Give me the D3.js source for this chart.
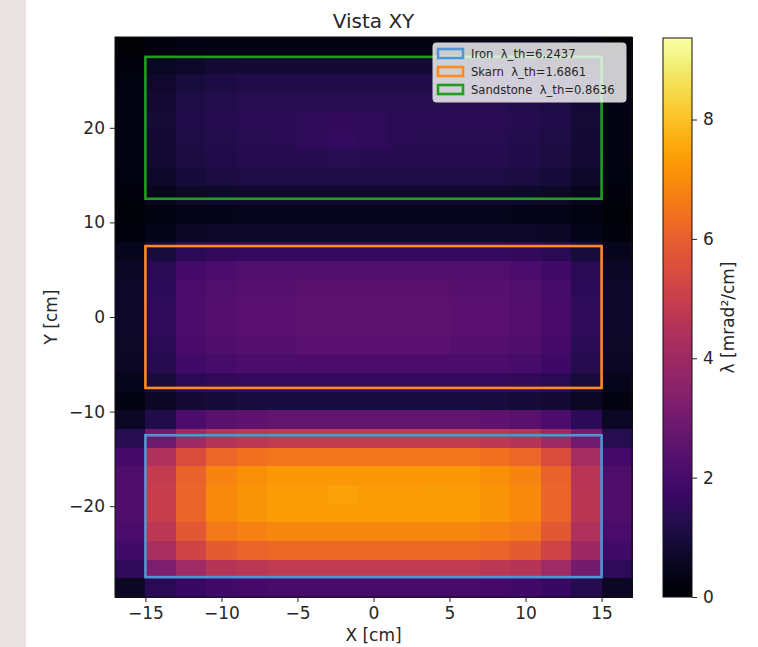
<!DOCTYPE html>
<html><head><meta charset="utf-8">
<script src="https://cdn.jsdelivr.net/npm/d3@7"></script>
<style>
html,body{margin:0;padding:0;background:#fff;}
svg{display:block;font-family:"DejaVu Sans",sans-serif;}
</style></head>
<body>
<script>
// ---------- data ----------
const title = "Vista XY";
const xCenters = [-16,-14,-12,-10,-8,-6,-4,-2,0,2,4,6,8,10,12,14,16];
const binWidth = 2;
const yExtent = [-29.6, 29.6];
const xExtent = [-17, 17];
const colorMax = 9.3656;
// rows from top (y = 29.6) to bottom (y = -29.6)
const lambdaGrid = [
 [0.09,0.23,0.30,0.33,0.35,0.35,0.35,0.35,0.35,0.35,0.35,0.35,0.35,0.33,0.30,0.23,0.09],
 [0.21,0.55,0.72,0.81,0.85,0.85,0.85,0.85,0.85,0.85,0.85,0.85,0.85,0.81,0.72,0.55,0.21],
 [0.29,0.75,0.98,1.09,1.15,1.15,1.15,1.15,1.15,1.15,1.15,1.15,1.15,1.09,0.98,0.75,0.29],
 [0.33,0.85,1.11,1.24,1.30,1.30,1.30,1.30,1.30,1.30,1.30,1.30,1.30,1.24,1.11,0.85,0.33],
 [0.34,0.88,1.15,1.28,1.35,1.35,1.45,1.50,1.45,1.35,1.35,1.35,1.35,1.28,1.15,0.88,0.34],
 [0.33,0.85,1.11,1.24,1.30,1.35,1.45,1.55,1.45,1.35,1.30,1.30,1.30,1.24,1.11,0.85,0.33],
 [0.31,0.81,1.06,1.19,1.25,1.25,1.25,1.30,1.25,1.25,1.25,1.25,1.25,1.19,1.06,0.81,0.31],
 [0.28,0.72,0.94,1.05,1.10,1.10,1.10,1.10,1.10,1.10,1.10,1.10,1.10,1.05,0.94,0.72,0.28],
 [0.19,0.49,0.64,0.71,0.75,0.75,0.75,0.75,0.75,0.75,0.75,0.75,0.75,0.71,0.64,0.49,0.19],
 [0.13,0.29,0.38,0.43,0.45,0.45,0.45,0.45,0.45,0.45,0.45,0.45,0.45,0.43,0.38,0.29,0.13],
 [0.20,0.42,0.62,0.67,0.70,0.70,0.70,0.70,0.70,0.70,0.70,0.70,0.70,0.67,0.60,0.42,0.20],
 [0.45,0.96,1.41,1.52,1.60,1.60,1.60,1.60,1.60,1.60,1.60,1.60,1.60,1.52,1.36,0.96,0.45],
 [0.62,1.32,1.94,2.09,2.20,2.20,2.20,2.20,2.20,2.20,2.20,2.20,2.20,2.09,1.87,1.32,0.62],
 [0.66,1.41,2.07,2.23,2.35,2.35,2.45,2.45,2.45,2.45,2.45,2.35,2.35,2.23,2.00,1.41,0.66],
 [0.67,1.44,2.11,2.28,2.40,2.40,2.50,2.50,2.50,2.50,2.50,2.40,2.40,2.28,2.04,1.44,0.67],
 [0.67,1.44,2.11,2.28,2.40,2.40,2.50,2.50,2.50,2.50,2.50,2.40,2.40,2.28,2.04,1.44,0.67],
 [0.64,1.38,2.02,2.19,2.30,2.30,2.40,2.40,2.40,2.40,2.40,2.30,2.30,2.19,1.96,1.38,0.64],
 [0.59,1.26,1.85,2.00,2.10,2.10,2.10,2.10,2.10,2.10,2.10,2.10,2.10,2.00,1.79,1.26,0.59],
 [0.45,0.96,1.41,1.52,1.60,1.60,1.60,1.60,1.60,1.60,1.60,1.60,1.60,1.52,1.36,0.96,0.45],
 [0.30,0.60,0.85,0.95,1.00,1.00,1.00,1.00,1.00,1.00,1.00,1.00,1.00,0.95,0.85,0.60,0.30],
 [0.60,1.20,2.10,2.45,2.55,2.60,2.60,2.60,2.60,2.60,2.60,2.60,2.55,2.45,2.10,1.40,0.60],
 [1.30,2.90,4.00,4.56,4.70,4.80,4.80,4.80,4.80,4.80,4.80,4.80,4.70,4.56,4.00,3.00,1.30],
 [1.95,4.42,5.46,6.18,6.37,6.50,6.50,6.50,6.50,6.50,6.50,6.50,6.37,6.18,5.46,4.16,1.95],
 [2.16,4.90,6.05,6.84,7.06,7.20,7.20,7.20,7.20,7.20,7.20,7.20,7.06,6.84,6.05,4.61,2.16],
 [2.19,4.96,6.13,6.94,7.15,7.30,7.30,7.40,7.30,7.30,7.35,7.30,7.15,6.94,6.13,4.67,2.19],
 [2.19,4.96,6.13,6.94,7.15,7.30,7.30,7.30,7.30,7.30,7.30,7.30,7.15,6.94,6.13,4.67,2.19],
 [2.07,4.69,5.80,6.56,6.76,6.90,6.90,6.90,6.90,6.90,6.90,6.90,6.76,6.56,5.80,4.42,2.07],
 [1.86,4.22,5.21,5.89,6.08,6.20,6.20,6.20,6.20,6.20,6.20,6.20,6.08,5.89,5.21,3.97,1.86],
 [1.44,3.26,4.03,4.56,4.70,4.80,4.80,4.80,4.80,4.80,4.80,4.80,4.70,4.56,4.03,3.07,1.44],
 [0.60,1.36,1.68,1.90,1.96,2.00,2.00,2.00,2.00,2.00,2.00,2.00,1.96,1.90,1.68,1.28,0.60]
];
const boxNames = ["Iron","Skarn","Sandstone"];
const boxThresholds = [6.2437, 1.6861, 0.8636];
const boxX0 = [-15,-15,-15];
const boxX1 = [15,15,15];
const boxY0 = [-27.5,-7.5,12.5];
const boxY1 = [-12.5,7.5,27.5];
const boxColors = ["#4f96d2","#ff8a1c","#1f9e1f"];
const xTicks = [-15,-10,-5,0,5,10,15];
const yTicks = [-20,-10,0,10,20];
const cTicks = [0,2,4,6,8];
const xLabel = "X [cm]", yLabel = "Y [cm]", cLabel = "λ [mrad²/cm]";

// ---------- layout ----------
const W = 758, H = 647;
const P = {l:115, r:632, t:37, b:597};
const CB = {l:663, r:692, t:38, b:597};
const tickFont = 17, labelFont = 17, titleFont = 20;

const svg = d3.select("body").append("svg").attr("width",W).attr("height",H);
svg.append("rect").attr("width",W).attr("height",H).attr("fill","#fff");
svg.append("rect").attr("x",0).attr("y",0).attr("width",26).attr("height",H).attr("fill","#ebe2e2");

const x = d3.scaleLinear().domain(xExtent).range([P.l,P.r]);
const y = d3.scaleLinear().domain(yExtent).range([P.b,P.t]);
const color = d3.scaleSequential(d3.interpolateInferno).domain([0,colorMax]);

const nRows = lambdaGrid.length;
const rowH = (yExtent[1]-yExtent[0])/nRows;
const cells = [];
lambdaGrid.forEach((row,i)=>row.forEach((v,j)=>{
  cells.push({x0:xCenters[j]-binWidth/2, x1:xCenters[j]+binWidth/2,
              y1:yExtent[1]-i*rowH, y0:yExtent[1]-(i+1)*rowH, v});
}));
const gCells = svg.append("g").attr("shape-rendering","crispEdges");
gCells.selectAll("rect").data(cells).join("rect")
  .attr("x",d=>x(d.x0)).attr("y",d=>y(d.y1))
  .attr("width",d=>x(d.x1)-x(d.x0)+0.6).attr("height",d=>y(d.y0)-y(d.y1)+0.6)
  .attr("fill",d=>color(d.v));

// boxes
const boxes = boxNames.map((n,i)=>({n, t:boxThresholds[i], x0:boxX0[i], x1:boxX1[i], y0:boxY0[i], y1:boxY1[i], c:boxColors[i]}));
svg.append("g").selectAll("rect").data(boxes).join("rect")
  .attr("x",d=>x(d.x0)).attr("y",d=>y(d.y1))
  .attr("width",d=>x(d.x1)-x(d.x0)).attr("height",d=>y(d.y0)-y(d.y1))
  .attr("fill","none").attr("stroke",d=>d.c).attr("stroke-width",2.6);

// frame
svg.append("rect").attr("x",P.l).attr("y",P.t).attr("width",P.r-P.l).attr("height",P.b-P.t)
  .attr("fill","none").attr("stroke","#111").attr("stroke-width",1);

// axes
const fmt = d3.format("d");
const ax = svg.append("g").attr("transform",`translate(0,${P.b})`)
  .call(d3.axisBottom(x).tickValues(xTicks).tickFormat(fmt).tickSize(5).tickPadding(5));
const ay = svg.append("g").attr("transform",`translate(${P.l},0)`)
  .call(d3.axisLeft(y).tickValues(yTicks).tickFormat(fmt).tickSize(5).tickPadding(5));
[ax,ay].forEach(a=>{
  a.select(".domain").remove();
  a.selectAll("line").attr("stroke","#222");
  a.selectAll("text").attr("font-size",tickFont).attr("fill","#262626").attr("font-family","DejaVu Sans");
});

svg.append("text").attr("x",(P.l+P.r)/2).attr("y",28).attr("text-anchor","middle")
  .attr("font-size",titleFont).attr("fill","#262626").text(title);
svg.append("text").attr("x",(P.l+P.r)/2).attr("y",641).attr("text-anchor","middle")
  .attr("font-size",labelFont).attr("fill","#262626").text(xLabel);
svg.append("text").attr("transform",`translate(57,${(P.t+P.b)/2}) rotate(-90)`).attr("text-anchor","middle")
  .attr("font-size",labelFont).attr("fill","#262626").text(yLabel);

// colorbar
const defs = svg.append("defs");
const grad = defs.append("linearGradient").attr("id","cbgrad").attr("x1",0).attr("y1",1).attr("x2",0).attr("y2",0);
d3.range(0,1.0001,0.02).forEach(t=>grad.append("stop").attr("offset",t).attr("stop-color",d3.interpolateInferno(t)));
svg.append("rect").attr("x",CB.l).attr("y",CB.t).attr("width",CB.r-CB.l).attr("height",CB.b-CB.t)
  .attr("fill","url(#cbgrad)").attr("stroke","#111").attr("stroke-width",1);
const cy = d3.scaleLinear().domain([0,colorMax]).range([CB.b,CB.t]);
const ac = svg.append("g").attr("transform",`translate(${CB.r},0)`)
  .call(d3.axisRight(cy).tickValues(cTicks).tickFormat(fmt).tickSize(5).tickPadding(6));
ac.select(".domain").remove();
ac.selectAll("line").attr("stroke","#222");
ac.selectAll("text").attr("font-size",tickFont).attr("fill","#262626").attr("font-family","DejaVu Sans");
svg.append("text").attr("transform",`translate(734,${(CB.t+CB.b)/2}) rotate(-90)`).attr("text-anchor","middle")
  .attr("font-size",labelFont).attr("fill","#262626").text(cLabel);

// legend
const L = {x:433, y:43, w:193, h:59};
const lg = svg.append("g");
lg.append("rect").attr("x",L.x).attr("y",L.y).attr("width",L.w).attr("height",L.h).attr("rx",3)
  .attr("fill","#fff").attr("fill-opacity",0.8).attr("stroke","#d0d0d0").attr("stroke-width",1);
const items = lg.selectAll("g.item").data(boxes).join("g").attr("class","item")
  .attr("transform",(d,i)=>`translate(${L.x+5},${L.y+6+i*18})`);
items.append("rect").attr("x",0).attr("y",0).attr("width",25).attr("height",9)
  .attr("fill","none").attr("stroke",d=>d.c).attr("stroke-width",2.6);
items.append("text").attr("x",33).attr("y",9).attr("font-size",11.6).attr("fill","#262626")
  .style("white-space","pre").text(d=>`${d.n}  λ_th=${d.t.toFixed(4)}`);
</script>
</body></html>
